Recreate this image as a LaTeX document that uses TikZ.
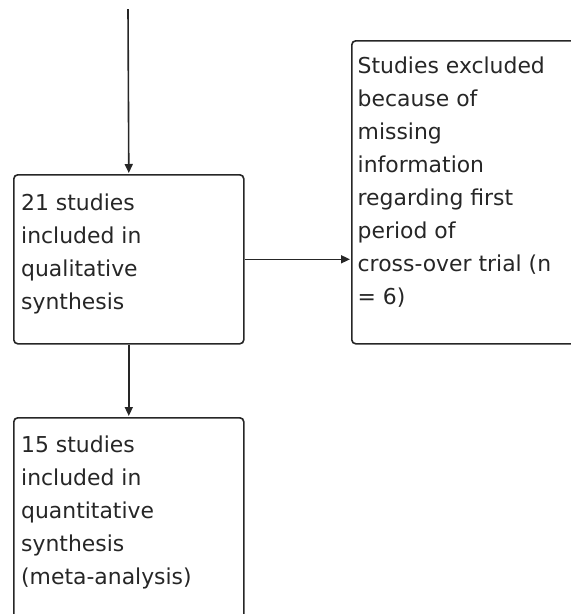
\documentclass[tikz,border=0pt]{standalone}
\usepackage{fontspec}
\setmainfont{DejaVu Sans}
\usetikzlibrary{arrows.meta}
\begin{document}
\begin{tikzpicture}[x=1pt,y=-1pt,
  boxshape/.style={draw=black!85, line width=1.6pt, rounded corners=4pt, anchor=north west, inner sep=0pt},
  txt/.style={anchor=north west, inner sep=0pt, align=left, font=\fontsize{21.9}{33}\selectfont, text=black!85},
  conn/.style={draw=black!85, line width=1.6pt, shorten >=1pt, -{Triangle[length=9pt,width=8pt]}}]
\useasboundingbox (0,0) rectangle (571,614);
\clip (0,0) rectangle (571,614);
\node[boxshape, minimum width=230pt, minimum height=169pt] (b1) at (13,174) {};
\node[boxshape, minimum width=230pt, minimum height=303pt] (b2) at (351,40) {};
\node[boxshape, minimum width=230pt, minimum height=230pt] (b3) at (13,417) {};
\node[txt] (t1) at (21,190) {\rule{0pt}{20pt}21 studies\\included in\\qualitative\\synthesis};
\node[txt] (t2) at (357.5,53) {\rule{0pt}{20pt}Studies excluded\\because of\\missing\\information\\regarding first\\period of\\cross-over trial (n\\= 6)};
\node[txt] (t3) at (21,432) {\rule{0pt}{20pt}15 studies\\included in\\quantitative\\synthesis\\(meta-analysis)};
\coordinate (top) at (128,9);
\draw[conn] (top) -- (b1.north);
\draw[conn] (b1.east) -- (b1.east -| b2.west);
\draw[conn] (b1.south) -- (b3.north);
\end{tikzpicture}
\end{document}
